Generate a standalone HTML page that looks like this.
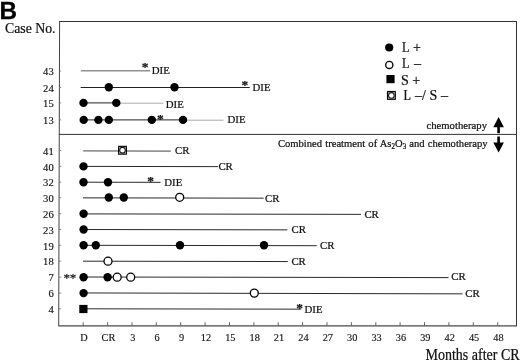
<!DOCTYPE html><html><head><meta charset="utf-8"><title>Figure B</title>
<style>html,body{margin:0;padding:0;background:#fff}svg{display:block}text{font-family:"Liberation Serif","DejaVu Serif",serif;fill:#111;stroke:#111;stroke-width:0.22px}</style></head><body>
<svg width="520" height="360" viewBox="0 0 520 360">
<rect width="520" height="360" fill="#fff"/>
<g fill="none" stroke="#3a3a3a" stroke-width="1">
<path d="M59.1 21.5H516.5" stroke="#333"/><path d="M516.5 21V326" stroke="#333"/><path d="M58.5 325.85H517" stroke="#484848" stroke-width="1.4"/><path d="M59.6 21L58.7 326" stroke="#444"/>
<path d="M59 134.4H516.5" stroke="#333"/>
</g>
<g stroke="#555" stroke-width="0.9">
<path d="M83.2 322.2V325.8"/>
<path d="M107.6 322.2V325.8"/>
<path d="M132.0 322.2V325.8"/>
<path d="M156.3 322.2V325.8"/>
<path d="M180.7 322.2V325.8"/>
<path d="M205.1 322.2V325.8"/>
<path d="M229.5 322.2V325.8"/>
<path d="M253.9 322.2V325.8"/>
<path d="M278.2 322.2V325.8"/>
<path d="M302.6 322.2V325.8"/>
<path d="M327.0 322.2V325.8"/>
<path d="M351.4 322.2V325.8"/>
<path d="M375.8 322.2V325.8"/>
<path d="M400.1 322.2V325.8"/>
<path d="M424.5 322.2V325.8"/>
<path d="M448.9 322.2V325.8"/>
<path d="M473.3 322.2V325.8"/>
<path d="M497.7 322.2V325.8"/>
<path d="M59 71.0h2.2" stroke="#707070" stroke-width="0.8"/>
<path d="M59 87.5h2.2" stroke="#707070" stroke-width="0.8"/>
<path d="M59 102.9h2.2" stroke="#707070" stroke-width="0.8"/>
<path d="M59 119.9h2.2" stroke="#707070" stroke-width="0.8"/>
<path d="M59 150.5h2.2" stroke="#707070" stroke-width="0.8"/>
<path d="M59 166.4h2.2" stroke="#707070" stroke-width="0.8"/>
<path d="M59 182.2h2.2" stroke="#707070" stroke-width="0.8"/>
<path d="M59 197.7h2.2" stroke="#707070" stroke-width="0.8"/>
<path d="M59 213.7h2.2" stroke="#707070" stroke-width="0.8"/>
<path d="M59 229.5h2.2" stroke="#707070" stroke-width="0.8"/>
<path d="M59 245.3h2.2" stroke="#707070" stroke-width="0.8"/>
<path d="M59 261.2h2.2" stroke="#707070" stroke-width="0.8"/>
<path d="M59 277.2h2.2" stroke="#707070" stroke-width="0.8"/>
<path d="M59 293.1h2.2" stroke="#707070" stroke-width="0.8"/>
<path d="M59 308.8h2.2" stroke="#707070" stroke-width="0.8"/>
</g>
<text x="53.7" y="75.2" font-size="10.6" text-anchor="end" style="stroke-width:0.15px">43</text>
<text x="53.7" y="91.7" font-size="10.6" text-anchor="end" style="stroke-width:0.15px">24</text>
<text x="53.7" y="107.1" font-size="10.6" text-anchor="end" style="stroke-width:0.15px">15</text>
<text x="53.7" y="124.1" font-size="10.6" text-anchor="end" style="stroke-width:0.15px">13</text>
<text x="53.7" y="154.7" font-size="10.6" text-anchor="end" style="stroke-width:0.15px">41</text>
<text x="53.7" y="170.6" font-size="10.6" text-anchor="end" style="stroke-width:0.15px">40</text>
<text x="53.7" y="186.4" font-size="10.6" text-anchor="end" style="stroke-width:0.15px">32</text>
<text x="53.7" y="201.9" font-size="10.6" text-anchor="end" style="stroke-width:0.15px">30</text>
<text x="53.7" y="217.9" font-size="10.6" text-anchor="end" style="stroke-width:0.15px">26</text>
<text x="53.7" y="233.7" font-size="10.6" text-anchor="end" style="stroke-width:0.15px">23</text>
<text x="53.7" y="249.5" font-size="10.6" text-anchor="end" style="stroke-width:0.15px">19</text>
<text x="53.7" y="265.4" font-size="10.6" text-anchor="end" style="stroke-width:0.15px">18</text>
<text x="53.7" y="281.4" font-size="10.6" text-anchor="end" style="stroke-width:0.15px">7</text>
<text x="53.7" y="297.3" font-size="10.6" text-anchor="end" style="stroke-width:0.15px">6</text>
<text x="53.7" y="313.0" font-size="10.6" text-anchor="end" style="stroke-width:0.15px">4</text>
<path d="M80.8 70.85L150.0 70.85" stroke="#4a4a4a" stroke-width="0.9" fill="none"/>
<text x="145.0" y="71.1" font-size="13.5" text-anchor="middle" font-weight="bold">*</text>
<text x="151.8" y="73.5" font-size="10.8" text-anchor="start" >DIE</text>
<path d="M80.7 87.50L249.8 87.50" stroke="#222" stroke-width="1.0" fill="none"/>
<circle cx="108.8" cy="87.3" r="4.2" fill="#000"/>
<circle cx="174.5" cy="87.2" r="4.2" fill="#000"/>
<text x="244.8" y="89.4" font-size="13.5" text-anchor="middle" font-weight="bold">*</text>
<text x="252.5" y="90.8" font-size="10.8" text-anchor="start" >DIE</text>
<path d="M83.0 102.90L116.0 102.90" stroke="#222" stroke-width="1.0" fill="none"/>
<path d="M116.0 103.20L163.5 103.20" stroke="#aaa" stroke-width="1.0" fill="none"/>
<circle cx="83.5" cy="102.9" r="4.2" fill="#000"/>
<circle cx="116.3" cy="102.9" r="4.2" fill="#000"/>
<text x="165.8" y="107.5" font-size="10.8" text-anchor="start" >DIE</text>
<path d="M83.0 119.90L183.0 119.90" stroke="#222" stroke-width="1.0" fill="none"/>
<path d="M183.0 120.20L223.5 120.20" stroke="#aaa" stroke-width="1.0" fill="none"/>
<circle cx="83.7" cy="119.9" r="4.2" fill="#000"/>
<circle cx="98.4" cy="119.9" r="4.2" fill="#000"/>
<circle cx="108.8" cy="119.9" r="4.2" fill="#000"/>
<circle cx="151.8" cy="119.9" r="4.2" fill="#000"/>
<circle cx="183.0" cy="119.9" r="4.2" fill="#000"/>
<text x="160.4" y="122.8" font-size="13.5" text-anchor="middle" font-weight="bold">*</text>
<text x="227.5" y="122.5" font-size="10.8" text-anchor="start" >DIE</text>
<path d="M83.2 150.90L170.8 151.05" stroke="#6a6a6a" stroke-width="1.3" fill="none"/>
<g stroke="#000"><rect x="118.60" y="146.35" width="7.8" height="7.8" fill="#f4f4f4" stroke-width="1.15"/><path d="M118.60 146.35L126.40 154.15M126.40 146.35L118.60 154.15" stroke-width="0.5" stroke="#777"/><circle cx="122.50" cy="150.25" r="2.85" stroke-width="1.15" stroke="#1a1a1a" fill="#fff"/></g>
<text x="175.0" y="154.2" font-size="10.8" text-anchor="start" >CR</text>
<path d="M83.0 166.40L218.0 166.63" stroke="#2a2a2a" stroke-width="1.0" fill="none"/>
<circle cx="83.5" cy="166.4" r="4.2" fill="#000"/>
<text x="218.4" y="170.4" font-size="10.8" text-anchor="start" >CR</text>
<path d="M83.0 182.20L160.5 182.33" stroke="#2a2a2a" stroke-width="1.0" fill="none"/>
<circle cx="83.5" cy="182.2" r="4.2" fill="#000"/>
<circle cx="108.0" cy="182.2" r="4.2" fill="#000"/>
<text x="150.5" y="185.0" font-size="13.5" text-anchor="middle" font-weight="bold">*</text>
<text x="164.3" y="185.8" font-size="10.8" text-anchor="start" >DIE</text>
<path d="M83.0 197.85L263.7 198.16" stroke="#2a2a2a" stroke-width="1.0" fill="none"/>
<circle cx="108.8" cy="197.5" r="4.2" fill="#000"/>
<circle cx="123.8" cy="197.5" r="4.2" fill="#000"/>
<circle cx="179.7" cy="197.3" r="4.0" fill="#fff" stroke="#000" stroke-width="1.3"/>
<text x="265.0" y="201.7" font-size="10.8" text-anchor="start" >CR</text>
<path d="M83.0 213.90L361.0 214.37" stroke="#2a2a2a" stroke-width="1.0" fill="none"/>
<circle cx="83.6" cy="213.7" r="4.2" fill="#000"/>
<text x="364.4" y="218.0" font-size="10.8" text-anchor="start" >CR</text>
<path d="M83.0 229.50L287.4 229.85" stroke="#2a2a2a" stroke-width="1.0" fill="none"/>
<circle cx="83.6" cy="229.5" r="4.2" fill="#000"/>
<text x="291.5" y="232.8" font-size="10.8" text-anchor="start" >CR</text>
<path d="M83.0 245.30L316.8 245.70" stroke="#2a2a2a" stroke-width="1.0" fill="none"/>
<circle cx="83.6" cy="245.3" r="4.2" fill="#000"/>
<circle cx="95.8" cy="245.3" r="4.2" fill="#000"/>
<circle cx="180.0" cy="245.3" r="4.2" fill="#000"/>
<circle cx="264.0" cy="245.3" r="4.2" fill="#000"/>
<text x="320.0" y="248.8" font-size="10.8" text-anchor="start" >CR</text>
<path d="M83.0 261.20L287.8 261.55" stroke="#2a2a2a" stroke-width="1.0" fill="none"/>
<circle cx="108.0" cy="261.2" r="4.0" fill="#fff" stroke="#000" stroke-width="1.3"/>
<text x="291.4" y="264.9" font-size="10.8" text-anchor="start" >CR</text>
<path d="M83.0 277.00L448.5 277.62" stroke="#2a2a2a" stroke-width="1.0" fill="none"/>
<circle cx="83.6" cy="277.2" r="4.2" fill="#000"/>
<circle cx="107.6" cy="277.2" r="4.2" fill="#000"/>
<circle cx="117.2" cy="277.2" r="4.0" fill="#fff" stroke="#000" stroke-width="1.3"/>
<circle cx="130.7" cy="277.2" r="4.0" fill="#fff" stroke="#000" stroke-width="1.3"/>
<text x="451.3" y="280.3" font-size="10.8" text-anchor="start" >CR</text>
<text x="66.8" y="282.0" font-size="13" text-anchor="middle">*</text>
<text x="72.9" y="282.0" font-size="13" text-anchor="middle">*</text>
<path d="M83 292.95L462.5 293.85" stroke="#2a2a2a" stroke-width="1" fill="none"/>
<circle cx="83.6" cy="293.1" r="4.2" fill="#000"/>
<circle cx="254.3" cy="293.1" r="4.0" fill="#fff" stroke="#000" stroke-width="1.3"/>
<text x="465.2" y="297.4" font-size="10.8" text-anchor="start" >CR</text>
<path d="M83.0 308.80L301.2 309.17" stroke="#2a2a2a" stroke-width="1.0" fill="none"/>
<rect x="79.3" y="304.9" width="8.2" height="8.2" fill="#000"/>
<text x="299.5" y="311.8" font-size="13.5" text-anchor="middle" font-weight="bold">*</text>
<text x="304.5" y="312.9" font-size="10.8" text-anchor="start" >DIE</text>
<text x="84.0" y="341.0" font-size="10.3" text-anchor="middle" style="stroke-width:0.14px">D</text>
<text x="108.4" y="341.0" font-size="10.3" text-anchor="middle" style="stroke-width:0.14px">CR</text>
<text x="132.8" y="341.0" font-size="10.3" text-anchor="middle" style="stroke-width:0.14px">3</text>
<text x="157.1" y="341.0" font-size="10.3" text-anchor="middle" style="stroke-width:0.14px">6</text>
<text x="181.5" y="341.0" font-size="10.3" text-anchor="middle" style="stroke-width:0.14px">9</text>
<text x="205.9" y="341.0" font-size="10.3" text-anchor="middle" style="stroke-width:0.14px">12</text>
<text x="230.3" y="341.0" font-size="10.3" text-anchor="middle" style="stroke-width:0.14px">15</text>
<text x="254.7" y="341.0" font-size="10.3" text-anchor="middle" style="stroke-width:0.14px">18</text>
<text x="279.0" y="341.0" font-size="10.3" text-anchor="middle" style="stroke-width:0.14px">21</text>
<text x="303.4" y="341.0" font-size="10.3" text-anchor="middle" style="stroke-width:0.14px">24</text>
<text x="327.8" y="341.0" font-size="10.3" text-anchor="middle" style="stroke-width:0.14px">27</text>
<text x="352.2" y="341.0" font-size="10.3" text-anchor="middle" style="stroke-width:0.14px">30</text>
<text x="376.6" y="341.0" font-size="10.3" text-anchor="middle" style="stroke-width:0.14px">33</text>
<text x="400.9" y="341.0" font-size="10.3" text-anchor="middle" style="stroke-width:0.14px">36</text>
<text x="425.3" y="341.0" font-size="10.3" text-anchor="middle" style="stroke-width:0.14px">39</text>
<text x="449.7" y="341.0" font-size="10.3" text-anchor="middle" style="stroke-width:0.14px">42</text>
<text x="474.1" y="341.0" font-size="10.3" text-anchor="middle" style="stroke-width:0.14px">45</text>
<text x="498.5" y="341.0" font-size="10.3" text-anchor="middle" style="stroke-width:0.14px">48</text>
<text transform="translate(5.0 32.5) scale(0.945 1)" font-size="14.6">Case No.</text>
<text transform="translate(519.7 359.5) scale(0.893 1)" font-size="15.7" text-anchor="end">Months after CR</text>
<text x="0" y="0" transform="translate(-0.6 18.7)" font-size="24.3" font-weight="bold" style="font-family:'Liberation Sans','DejaVu Sans',sans-serif;fill:#000;stroke:#000;stroke-width:0.3px">B</text>
<circle cx="389.2" cy="47.5" r="4.1" fill="#000"/>
<circle cx="389.3" cy="64.9" r="3.6" fill="#fff" stroke="#000" stroke-width="1.3"/>
<rect x="386.4" y="75.0" width="8.2" height="8.2" fill="#000"/>
<g stroke="#000"><rect x="387.50" y="91.50" width="7.8" height="7.8" fill="#f4f4f4" stroke-width="1.15"/><path d="M387.50 91.50L395.30 99.30M395.30 91.50L387.50 99.30" stroke-width="0.5" stroke="#777"/><circle cx="391.40" cy="95.40" r="2.85" stroke-width="1.15" stroke="#1a1a1a" fill="#fff"/></g>
<text transform="translate(402.08 51.75) scale(0.88 1)" font-size="14">L</text>
<text x="413.1" y="51.8" font-size="14" text-anchor="start" >+</text>
<text transform="translate(402.08 67.75) scale(0.88 1)" font-size="14">L</text>
<text x="414.0" y="67.8" font-size="14" text-anchor="start" >–</text>
<text x="400.9" y="84.5" font-size="14" text-anchor="start" >S</text>
<text x="412.3" y="84.5" font-size="14" text-anchor="start" >+</text>
<text transform="translate(403.58 99.75) scale(0.88 1)" font-size="14">L</text>
<text x="415.0" y="99.8" font-size="14" text-anchor="start" >–</text>
<text x="422.0" y="99.8" font-size="14" text-anchor="start" >/</text>
<text x="429.4" y="99.8" font-size="14" text-anchor="start" >S</text>
<text x="441.0" y="99.8" font-size="14" text-anchor="start" >–</text>
<text transform="translate(487.0 129.1) scale(1 1.04)" font-size="10.7" text-anchor="end">chemotherapy</text>
<text transform="translate(278 146.6) scale(1 1.04)" font-size="10.6" word-spacing="0.5">Combined treatment of As<tspan font-size="7" dy="2.2">2</tspan><tspan dy="-2.2">O</tspan><tspan font-size="7" dy="2.2">3</tspan><tspan dy="-2.2"> and chemotherapy</tspan></text>
<path d="M498.6 117.1L503.9 127.3H499.9V133.3H497.3V127.3H493.3Z" fill="#000"/>
<path d="M498.6 152.6L503.9 142.5H499.9V136.5H497.3V142.5H493.3Z" fill="#000"/>
</svg></body></html>
